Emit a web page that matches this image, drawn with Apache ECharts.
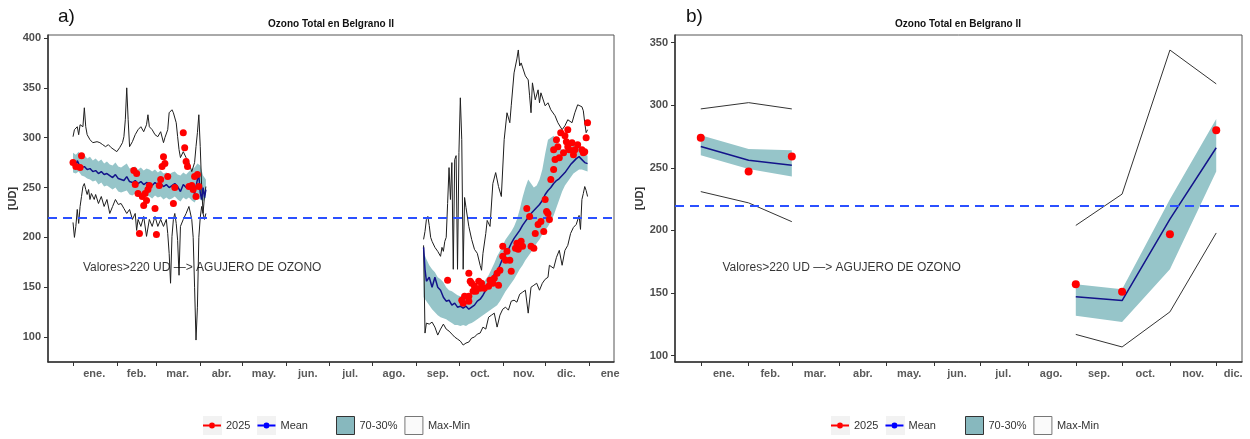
<!DOCTYPE html>
<html>
<head>
<meta charset="utf-8">
<title>Ozono Total en Belgrano II</title>
<script src="https://cdn.jsdelivr.net/npm/echarts@6/dist/echarts.min.js"></script>
<style>
html, body { margin: 0; padding: 0; background: #fff; }
#main { width: 1250px; height: 439px; }
</style>
</head>
<body>
<div id="main"></div>
<script>
// dias del año: 0 = 1 de enero
var monthTicks = [0, 31, 59, 90, 120, 151, 181, 212, 243, 273, 304, 334, 365];
var labelDaysA = [15, 45, 74, 105, 135, 166, 196, 227, 258, 288, 319, 349, 380];
var labelDaysB = [15, 45, 74, 105, 135, 166, 196, 227, 258, 288, 319, 345];
var monthLabels = ['ene.', 'feb.', 'mar.', 'abr.', 'may.', 'jun.', 'jul.', 'ago.', 'sep.', 'oct.', 'nov.', 'dic.', 'ene'];
var yTicksA = [100, 150, 200, 250, 300, 350, 400];
var yTicksB = [100, 150, 200, 250, 300, 350];
var noteText = 'Valores>220 UD \u2014> AGUJERO DE OZONO';
var noteA = [7, 170], noteB = [14, 170];
var limite = 220;

// ---- panel a) valores diarios ----
// verano (ene - abr)
var bandDaysA1 = [0,2,4,6,8,10,12,14,16,18,20,22,24,26,28,30,32,34,36,38,40,42,44,46,48,50,52,54,56,58,60,62,64,66,68,70,72,74,76,78,80,82,84,86,88,90,92,94];
var bandHighA1 = [285,283,286,281,283,279,281,277,279,276,278,274,276,273,272,275,271,270,272,274,269,270,271,268,270,267,269,268,266,268,265,267,264,265,263,265,266,263,262,265,263,266,268,270,274,272,262,258];
var bandLowA1 = [265,264,266,262,261,259,258,256,257,253,255,251,252,250,248,250,246,245,246,247,243,242,244,241,243,240,242,241,239,242,240,241,238,240,238,239,241,238,236,240,238,240,237,235,240,238,236,240];
var meanA1 = [[0,273],[2,272],[3,277],[4,274],[6,270],[8,271],[10,268],[12,269],[14,266],[16,267],[18,264],[20,266],[22,263],[24,264],[26,262],[28,260],[30,263],[32,259],[34,258],[36,257],[38,261],[40,256],[42,255],[44,257],[46,254],[48,256],[50,253],[52,255],[54,254],[56,252],[58,255],[60,253],[62,254],[64,251],[66,253],[68,250],[70,252],[72,254],[74,251],[76,246],[78,253],[80,250],[82,252],[84,249],[86,244],[88,258],[89,262],[90,245],[91,238],[92,250],[93,240],[94,248]];
var maxA1 = [[0,301],[1,308],[3,311],[4,303],[5,313],[7,311],[8,330],[9,311],[10,303],[12,298],[14,295],[17,296],[19,295],[21,293],[23,291],[25,293],[27,290],[29,288],[31,286],[33,290],[35,295],[36,301],[37,318],[38,350],[39,318],[40,291],[42,296],[44,303],[46,308],[48,311],[50,306],[52,313],[53,323],[54,311],[56,308],[58,303],[60,301],[62,306],[64,295],[65,300],[67,308],[68,325],[70,328],[71,325],[72,327],[73,315],[74,301],[75,288],[76,280],[78,286],[80,280],[82,275],[84,266],[86,275],[87,291],[88,305],[89,323],[90,291],[91,251],[92,224],[93,241],[94,251]];
var minA1 = [[0,215],[1,200],[2,211],[3,228],[4,214],[5,231],[6,241],[7,251],[8,254],[9,248],[10,243],[11,248],[12,238],[13,244],[15,238],[16,243],[18,234],[20,241],[22,231],[24,238],[26,224],[28,231],[30,238],[32,233],[34,234],[36,229],[38,224],[40,228],[42,218],[44,224],[45,207],[46,218],[48,211],[50,221],[52,201],[54,218],[56,211],[58,221],[60,211],[62,218],[64,211],[66,218],[67,204],[68,184],[69,154],[70,201],[71,218],[72,224],[73,214],[74,197],[75,162],[76,211],[78,218],[80,224],[82,231],[84,218],[85,200],[86,150],[87,97],[88,130],[89,200],[90,220],[91,231],[92,224],[93,218],[94,224]];
var obsA1 = [[0,275],[2,271],[5,270],[6,282],[43,267],[44,253],[45,264],[46,244],[47,204],[49,241],[50,232],[51,244],[52,237],[53,248],[54,252],[58,229],[59,203],[61,252],[62,258],[63,271],[64,281],[65,274],[67,261],[71,234],[72,250],[78,305],[79,290],[80,276],[81,271],[82,251],[84,252],[85,248],[86,261],[87,241],[88,263],[89,251]];

// primavera (sep - dic)
var bandDaysA2 = [248,250,252,254,256,258,260,262,264,266,268,270,272,274,276,278,280,282,284,286,288,290,292,294,296,298,300,302,304,306,308,310,312,314,316,318,320,322,324,326,328,330,332,334,336,338,340,342,344,346,348,350,352,354,356,358,360,362,364];
var bandHighA2 = [185,178,172,168,165,160,158,155,150,147,146,144,142,141,142,140,141,142,144,146,150,154,158,162,168,174,181,186,192,198,202,206,211,218,228,240,250,258,254,250,252,258,268,284,298,300,302,296,290,288,288,290,291,292,295,292,288,285,282];
var bandLowA2 = [140,136,132,128,125,122,120,119,118,116,114,112,112,111,112,111,113,114,116,118,120,122,124,126,128,130,132,136,141,146,150,154,158,163,168,172,177,181,185,190,194,198,203,207,211,216,222,230,238,246,252,256,260,264,266,268,268,267,266];
var meanA2 = [[248,190],[249,168],[250,156],[252,160],[254,150],[256,160],[258,150],[260,147],[262,140],[264,136],[266,137],[268,132],[270,134],[272,130],[274,131],[276,129],[278,131],[280,128],[282,130],[284,132],[286,136],[288,138],[290,142],[292,147],[294,152],[296,158],[298,163],[300,166],[302,172],[304,179],[306,183],[308,188],[310,194],[312,199],[314,203],[316,207],[318,212],[320,216],[322,220],[324,224],[326,227],[328,230],[330,233],[332,237],[334,243],[336,247],[338,250],[340,254],[342,257],[344,259],[346,262],[348,265],[350,269],[352,273],[354,276],[356,279],[358,281],[360,278],[362,275],[364,274]];
var maxA2 = [[248,198],[249,206],[250,218],[251,221],[252,212],[253,200],[254,196],[256,190],[258,186],[260,181],[261,190],[262,186],[263,196],[264,200],[265,234],[266,270],[267,238],[268,275],[269,168],[270,278],[271,282],[272,168],[273,285],[274,340],[275,298],[276,168],[277,240],[278,230],[280,211],[282,198],[284,188],[286,184],[288,172],[289,167],[290,184],[292,204],[293,217],[295,211],[297,254],[299,265],[301,251],[303,241],[305,298],[307,325],[309,315],[310,332],[312,365],[314,379],[315,388],[316,372],[317,375],[320,362],[322,358],[323,342],[324,325],[325,355],[327,338],[329,348],[330,335],[331,345],[334,332],[336,335],[338,328],[341,322],[343,315],[346,308],[348,312],[350,318],[353,315],[355,325],[357,333],[360,331],[361,327],[362,315],[363,305],[364,308]];
var minA2 = [[248,192],[249,104],[250,114],[251,116],[252,113],[254,115],[256,110],[258,102],[260,108],[262,113],[264,108],[266,106],[268,103],[270,100],[272,98],[274,96],[276,92],[277,91],[278,94],[280,95],[282,99],[284,100],[286,103],[288,104],[290,110],[292,108],[294,120],[296,122],[298,124],[300,110],[302,122],[304,128],[306,130],[308,127],[310,136],[312,137],[314,135],[316,143],[318,145],[320,147],[322,124],[324,150],[326,152],[328,154],[330,147],[332,154],[334,158],[336,160],[337,172],[338,170],[340,169],[342,180],[344,187],[346,172],[348,187],[350,192],[352,204],[354,210],[356,213],[358,222],[359,208],[360,238],[361,244],[362,251],[363,247],[364,241]];
var obsA2 = [[265,157],[275,137],[276,134],[277,141],[280,164],[280,141],[280,136],[281,156],[282,154],[283,146],[284,151],[285,146],[287,156],[288,149],[289,154],[291,149],[294,151],[295,157],[297,154],[298,159],[300,164],[301,152],[302,167],[304,191],[304,181],[306,177],[307,186],[309,177],[310,166],[313,189],[314,194],[315,188],[317,196],[318,191],[321,229],[323,221],[324,191],[326,189],[327,204],[329,213],[331,216],[333,206],[334,238],[335,226],[336,224],[337,218],[338,258],[340,268],[340,288],[341,278],[342,298],[343,291],[344,280],[345,305],[347,285],[348,302],[349,296],[350,291],[350,308],[351,288],[353,295],[354,283],[355,288],[357,293],[360,288],[361,285],[362,286],[363,300],[364,315]];

// ---- panel b) valores mensuales ----
var monthDaysB1 = [0, 31, 59];
var monthDaysB2 = [243, 273, 304, 334];
var obsB1 = [274, 247, 259], obsB2 = [157, 151, 197, 280];
var meanB1 = [267, 256, 252], meanB2 = [147, 144, 209, 266];
var highB1 = [276, 265, 264], highB2 = [157, 153, 225, 289];
var lowB1 = [260, 249, 243], lowB2 = [132, 127, 169, 247];
var maxB1 = [297, 302, 297], maxB2 = [204, 229, 344, 317];
var minB1 = [231, 222, 207], minB2 = [117, 107, 135, 198];

var colBand = '#96c5c9', colMean = '#13138a', colObs = '#ff0000', colMaxMin = '#1e1e1e';

function zip(days, vals) {
    return days.map(function (d, i) { return [d, vals[i]]; });
}

function xAxisCfg(g, min, max, ticks, labelDays) {
    return {
        type: 'value', gridIndex: g, min: min, max: max,
        splitLine: { show: false },
        axisLine: { onZero: false, lineStyle: { color: '#333', width: 1.5 } },
        axisTick: { show: true, customValues: ticks, length: 4, lineStyle: { color: '#333' } },
        axisLabel: {
            customValues: labelDays, margin: 6, fontSize: 11, fontWeight: 'bold', color: '#5a5a5a',
            formatter: function (v) {
                var i = labelDays.indexOf(v);
                return i < 0 ? '' : monthLabels[i];
            }
        }
    };
}

function yAxisCfg(g, min, max, ticks) {
    return {
        type: 'value', gridIndex: g, min: min, max: max,
        name: '[UD]', nameLocation: 'middle', nameGap: 30,
        nameTextStyle: { fontSize: 11, fontWeight: 'bold', color: '#333' },
        splitLine: { show: false },
        axisLine: { show: true, onZero: false, lineStyle: { color: '#333', width: 1.5 } },
        axisTick: { show: true, customValues: ticks, length: 4, lineStyle: { color: '#333' } },
        axisLabel: { customValues: ticks, margin: 7, fontSize: 11, fontWeight: 'bold', color: '#4d4d4d' }
    };
}

// banda 70-30%: un poligono entre la curva alta y la baja
function band(g, days, low, high) {
    return {
        type: 'custom', name: '70-30%', xAxisIndex: g, yAxisIndex: g,
        data: days.map(function (d, i) { return [d, low[i], high[i]]; }),
        encode: { x: 0, y: [1, 2] },
        renderItem: function (params, api) {
            if (params.dataIndex !== 0) return null;
            var top = [], bottom = [];
            for (var i = 0; i < days.length; i++) {
                top.push(api.coord([days[i], high[i]]));
                bottom.unshift(api.coord([days[i], low[i]]));
            }
            return { type: 'polygon', shape: { points: top.concat(bottom) }, style: { fill: colBand } };
        },
        itemStyle: { color: colBand }, silent: true, z: 1
    };
}

function line(name, g, pts, color, width, z) {
    return {
        type: 'line', name: name, xAxisIndex: g, yAxisIndex: g, data: pts, symbol: 'none',
        lineStyle: { color: color, width: width }, itemStyle: { color: color }, silent: true, z: z
    };
}

function points(g, pts, size) {
    return {
        type: 'scatter', name: '2025', xAxisIndex: g, yAxisIndex: g, data: pts,
        symbolSize: size, itemStyle: { color: colObs, opacity: 1 }, silent: true, z: 5
    };
}

function note(g, pos) {
    return {
        type: 'scatter', name: 'nota', xAxisIndex: g, yAxisIndex: g, data: [pos], symbolSize: 0,
        silent: true, z: 6,
        label: { show: true, position: 'right', distance: 0, formatter: noteText, fontSize: 12, color: '#000' },
        markLine: {
            silent: true, symbol: 'none', label: { show: false },
            lineStyle: { color: '#2b50ff', type: [9, 6], width: 2 },
            data: [{ yAxis: limite }]
        }
    };
}

var iconDot = 'path://M0,8H6V10H0Z M12,8H18V10H12Z M12,9A3,3 0 1 1 6,9A3,3 0 1 1 12,9Z';

function legends(x1, x2) {
    var common = { itemWidth: 18, itemHeight: 18, itemGap: 7, selectedMode: false,
        textStyle: { fontSize: 11, color: '#333' } };
    return [
        Object.assign({ left: x1, top: 415, data: [
            { name: '2025', icon: iconDot, itemStyle: { color: '#ff0000', borderWidth: 0 } },
            { name: 'Mean', icon: iconDot, itemStyle: { color: '#0000ff', borderWidth: 0 } }
        ] }, common),
        Object.assign({ left: x2, top: 411, data: [
            { name: '70-30%', icon: 'rect', itemStyle: { color: '#87b8be', borderColor: '#333', borderWidth: 1 } },
            { name: 'Max-Min', icon: 'rect', itemStyle: { color: '#fafafa', borderColor: '#777', borderWidth: 1 } }
        ] }, common)
    ];
}

function txt(x, y, s, font, align) {
    return { type: 'text', x: x, y: y, z: 10,
        style: { text: s, font: font, fill: '#111', align: align, textAlign: align,
            verticalAlign: 'middle', textVerticalAlign: 'middle' } };
}

function keyBg(x) {
    return { type: 'rect', shape: { x: x, y: 416, width: 19, height: 19 }, style: { fill: '#f2f2f2' }, z: 0 };
}

var series = [
    band(0, bandDaysA1, bandLowA1, bandHighA1),
    band(0, bandDaysA2, bandLowA2, bandHighA2),
    line('Max-Min', 0, maxA1, colMaxMin, 1, 2), line('Max-Min', 0, minA1, colMaxMin, 1, 2),
    line('Max-Min', 0, maxA2, colMaxMin, 1, 2), line('Max-Min', 0, minA2, colMaxMin, 1, 2),
    line('Mean', 0, meanA1, colMean, 1.5, 3), line('Mean', 0, meanA2, colMean, 1.5, 3),
    points(0, obsA1, 7), points(0, obsA2, 7), note(0, noteA),
    band(1, monthDaysB1, lowB1, highB1),
    band(1, monthDaysB2, lowB2, highB2),
    line('Max-Min', 1, zip(monthDaysB1, maxB1), '#333', 1, 2), line('Max-Min', 1, zip(monthDaysB1, minB1), '#333', 1, 2),
    line('Max-Min', 1, zip(monthDaysB2, maxB2), '#333', 1, 2), line('Max-Min', 1, zip(monthDaysB2, minB2), '#333', 1, 2),
    line('Mean', 1, zip(monthDaysB1, meanB1), colMean, 1.5, 3), line('Mean', 1, zip(monthDaysB2, meanB2), colMean, 1.5, 3),
    points(1, zip(monthDaysB1, obsB1), 8), points(1, zip(monthDaysB2, obsB2), 8), note(1, noteB)
];

var myChart = echarts.init(document.getElementById('main'));
myChart.setOption({
    animation: false,
    textStyle: { fontFamily: '"Liberation Sans", Arial, sans-serif' },
    grid: [
        { left: 48, top: 35, width: 566, height: 327, show: true, borderColor: '#555', borderWidth: 1, backgroundColor: 'transparent' },
        { left: 675, top: 35, width: 567, height: 327, show: true, borderColor: '#555', borderWidth: 1, backgroundColor: 'transparent' }
    ],
    xAxis: [
        xAxisCfg(0, -17.7, 382.7, monthTicks, labelDaysA),
        xAxisCfg(1, -16.7, 350.7, monthTicks.slice(0, 12), labelDaysB)
    ],
    yAxis: [
        yAxisCfg(0, 75, 403, yTicksA),
        yAxisCfg(1, 95, 356, yTicksB)
    ],
    legend: legends(198, 331).concat(legends(826, 960)),
    graphic: [
        txt(331, 24, 'Ozono Total en Belgrano II', 'bold 10px "Liberation Sans"', 'center'),
        txt(958, 24, 'Ozono Total en Belgrano II', 'bold 10px "Liberation Sans"', 'center'),
        txt(58, 17, 'a)', '19px "Liberation Sans"', 'left'),
        txt(686, 17, 'b)', '19px "Liberation Sans"', 'left'),
        keyBg(203), keyBg(257), keyBg(831), keyBg(886)
    ],
    series: series
});
</script>
</body>
</html>
